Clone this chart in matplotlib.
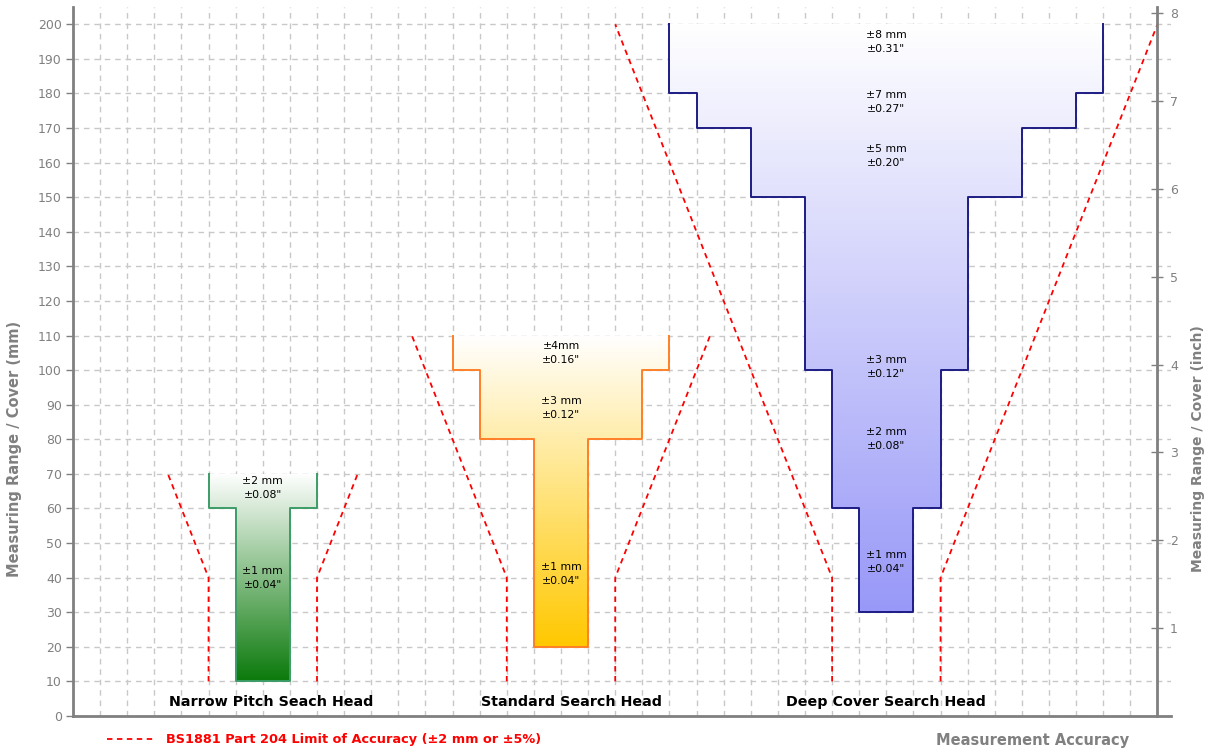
import numpy as np
import matplotlib.pyplot as plt
from matplotlib.colors import LinearSegmentedColormap
from matplotlib.patches import Polygon

# search heads, centred on the accuracy axis
heads = ["Narrow Pitch Seach Head", "Standard Search Head", "Deep Cover Search Head"]
head_centre = [7, 18, 30]

# accuracy bands: +/- mm, and the cover range (mm) each band applies to
narrow_acc = [1, 2]
narrow_lo = [10, 60]
narrow_hi = [60, 70]
standard_acc = [1, 3, 4]
standard_lo = [20, 80, 100]
standard_hi = [80, 100, 110]
deep_acc = [1, 2, 3, 5, 7, 8]
deep_lo = [30, 60, 100, 150, 170, 180]
deep_hi = [60, 100, 150, 170, 180, 200]

# band labels
narrow_text = ["±1 mm\n±0.04\"", "±2 mm\n±0.08\""]
narrow_text_y = [40, 66]
standard_text = ["±1 mm\n±0.04\"", "±3 mm\n±0.12\"", "±4mm\n±0.16\""]
standard_text_y = [41, 89, 105]
deep_text = ["±1 mm\n±0.04\"", "±2 mm\n±0.08\"", "±3 mm\n±0.12\"",
             "±5 mm\n±0.20\"", "±7 mm\n±0.27\"", "±8 mm\n±0.31\""]
deep_text_y = [44.5, 80, 101, 162, 177.5, 195]

# BS1881 limit (±2 mm or ±5%) at the cover depths where it changes
narrow_lim_depth = [10, 40, 70]
narrow_lim_tol = [2, 2, 3.5]
standard_lim_depth = [10, 40, 110]
standard_lim_tol = [2, 2, 5.5]
deep_lim_depth = [10, 40, 200]
deep_lim_tol = [2, 2, 10]

fill_colors = ["#0b7a0b", "#ffc800", "#9898f8"]
edge_colors = ["#3c9c68", "#ff7f27", "#1c1c84"]
name_shift = [0.3, 0.4, 0.0]

gray = "#808080"

fig = plt.figure(figsize=(12.11, 7.54), dpi=100)
ax = fig.add_axes([73 / 1211, 1 - 716 / 754, (1171 - 73) / 1211, (716 - 7) / 754])


def outline(c, acc, lo, hi):
    left = []
    for a, y0, y1 in zip(acc, lo, hi):
        left += [(c - a, y0), (c - a, y1)]
    right = [(2 * c - x, y) for x, y in left]
    # open at the top: top-left down, across the bottom, up to top-right
    return left[::-1] + right


bands = [(narrow_acc, narrow_lo, narrow_hi),
         (standard_acc, standard_lo, standard_hi),
         (deep_acc, deep_lo, deep_hi)]
texts = [(narrow_text, narrow_text_y), (standard_text, standard_text_y),
         (deep_text, deep_text_y)]
limits = [(narrow_lim_depth, narrow_lim_tol), (standard_lim_depth, standard_lim_tol),
          (deep_lim_depth, deep_lim_tol)]

grad = np.linspace(0, 1, 256).reshape(-1, 1)
for i, c in enumerate(head_centre):
    acc, lo, hi = bands[i]
    pts = outline(c, acc, lo, hi)
    poly = Polygon(pts, closed=True, facecolor="none", edgecolor="none", zorder=3)
    ax.add_patch(poly)
    cmap = LinearSegmentedColormap.from_list("g%d" % i, [fill_colors[i], "white"])
    amax = max(acc)
    im = ax.imshow(grad, cmap=cmap, origin="lower", aspect="auto",
                   extent=[c - amax, c + amax, min(lo), max(hi)], zorder=2)
    im.set_clip_path(poly)
    xs, ys = zip(*pts)
    ax.plot(xs, ys, color=edge_colors[i], lw=1.4, zorder=3)

    for t, ty in zip(*texts[i]):
        ax.text(c, ty, t, ha="center", va="center", fontsize=7.8,
                linespacing=1.5, zorder=5)

    ax.text(c + name_shift[i], 4, heads[i], ha="center", va="center",
            fontsize=10.3, fontweight="bold", zorder=5)

    d, tol = limits[i]
    lbl = "BS1881 Part 204 Limit of Accuracy (±2 mm or ±5%)" if i == 0 else None
    ax.plot([c - t for t in tol], d, color="red", ls=(0, (3, 2.5)), lw=1.3,
            zorder=4, label=lbl)
    ax.plot([c + t for t in tol], d, color="red", ls=(0, (3, 2.5)), lw=1.3, zorder=4)

ax.set_xlim(0, 40.5)
ax.set_ylim(0, 205)
ax.set_xticks(range(0, 41))
ax.set_xticklabels([])
ax.set_yticks(range(0, 201, 10))
ax.tick_params(axis="x", length=0)
ax.tick_params(axis="y", length=5, width=1, color=gray, labelcolor=gray,
               labelsize=9, pad=3)
ax.grid(True, color="#c8c8c8", ls=(0, (4, 3.5)), lw=1)
ax.set_axisbelow(True)
for s in ["top", "right"]:
    ax.spines[s].set_visible(False)
for s in ["left", "bottom"]:
    ax.spines[s].set_color(gray)
    ax.spines[s].set_linewidth(2)

ax2 = ax.twinx()
ax2.set_ylim(0, 205 / 25.4)
ax2.set_yticks(range(1, 9))
ax2.spines["right"].set_position(("data", 40))
ax2.spines["right"].set_color(gray)
ax2.spines["right"].set_linewidth(2)
for s in ["top", "left", "bottom"]:
    ax2.spines[s].set_visible(False)
ax2.tick_params(axis="y", direction="inout", length=8, width=1, color=gray,
                labelcolor=gray, labelsize=9, pad=5)

fig.text(15 / 1211, 1 - 449 / 754, "Measuring Range / Cover (mm)", rotation=90,
         ha="center", va="center", fontsize=10.5, fontweight="bold", color=gray)
fig.text(1198 / 1211, 1 - 449 / 754, "Measuring Range / Cover (inch)", rotation=90,
         ha="center", va="center", fontsize=10, fontweight="bold", color=gray)
fig.text(1033 / 1211, 1 - 741 / 754, "Measurement Accuracy", ha="center",
         va="center", fontsize=10.5, fontweight="bold", color=gray)

leg = fig.legend(loc="center left", bbox_to_anchor=(95 / 1211, 1 - 740 / 754),
                 frameon=False, handlelength=3.6, handletextpad=1.0,
                 prop={"weight": "bold", "size": 9.3}, labelcolor="red")

fig.savefig("out.png", dpi=100)
